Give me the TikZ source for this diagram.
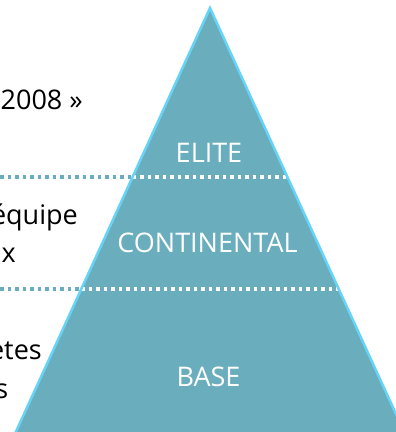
\documentclass[tikz,border=0pt]{standalone}
\usepackage{fontspec}
\setmainfont{Open Sans}
\definecolor{pyrfill}{HTML}{6AADBD}
\definecolor{pyredge}{HTML}{66D4F7}
\begin{document}
\begin{tikzpicture}[x=1pt,y=-1pt,
  lbl/.style={font=\fontsize{27}{32}\selectfont, inner sep=0pt},
  wlbl/.style={lbl, text=white, anchor=base},
  blbl/.style={lbl, text=black, anchor=base east},
  dotline/.style={line width=3.5pt, dash pattern=on 3.5pt off 4pt}]
\useasboundingbox (0,0) rectangle (396,432);
\clip (0,0) rectangle (396,432);
\coordinate (apex) at (210,8);
\coordinate (bl) at (8,449);
\coordinate (br) at (412,449);
\fill[pyrfill] (apex) -- (bl) -- (br) -- cycle;
% dotted separators
\coordinate (s1o) at (0,177);
\coordinate (s1l) at (132.6,177);
\coordinate (s1r) at (286,177);
\coordinate (s2o) at (0,289);
\coordinate (s2l) at (81.3,289);
\coordinate (s2r) at (337.5,289);
\draw[dotline, pyrfill] (s1o) -- (s1l);
\draw[dotline, white] (s1l) -- (s1r);
\draw[dotline, pyrfill] (s2o) -- (s2l);
\draw[dotline, white] (s2l) -- (s2r);
\draw[pyredge, line width=2.5pt, line join=miter] (bl) -- (apex) -- (br);
% labels inside
\node[wlbl] (elite) at (209,162) {ELITE};
\node[wlbl] (cont) at (207.5,252) {CONTINENTAL};
\node[wlbl] (base) at (208.5,386) {BASE};
% cut-off text on the left
\node[blbl] (t1) at (83,109) {2008 »};
\node[blbl] (t2) at (78,224) {équipe};
\node[blbl] (t3) at (16,262) {x};
\node[blbl] (t4) at (42,359) {etes};
\node[blbl] (t5) at (8.5,398) {s};
\end{tikzpicture}
\end{document}
